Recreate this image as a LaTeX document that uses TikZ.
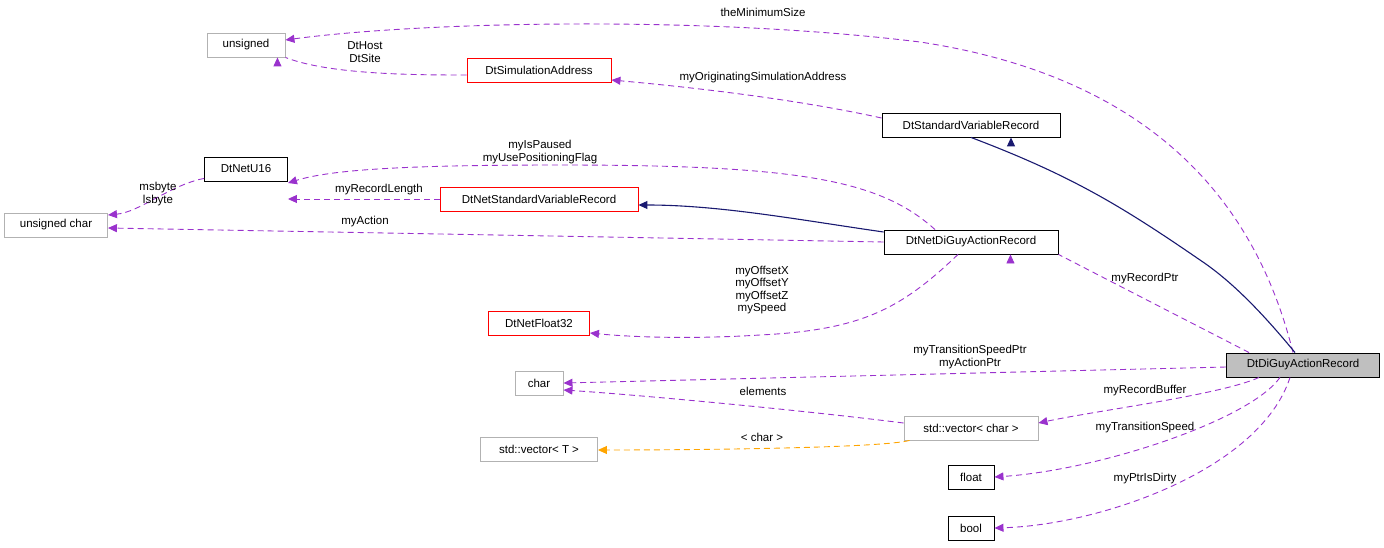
\documentclass[tikz,border=0pt]{standalone}
\usepackage{fontspec}
\setmainfont{Liberation Sans}
\usetikzlibrary{arrows.meta}
\definecolor{pur}{HTML}{9A32CD}
\definecolor{navy}{HTML}{191970}
\definecolor{org}{HTML}{FFA500}
\begin{document}
\begin{tikzpicture}[x=1pt,y=-1pt,font=\fontsize{11.5}{12.5}\selectfont,
  box/.style={draw,rectangle,minimum height=24pt,inner xsep=5pt,inner ysep=0pt,line width=0.9pt},
  gbox/.style={box,draw=gray!60},
  rbox/.style={box,draw=red},
  kbox/.style={box,draw=black},
  rel/.style={draw=pur,line width=0.9pt,dash pattern=on 6pt off 4pt,-{Triangle[length=9pt,width=8pt]}},
  inh/.style={draw=navy,-{Triangle[length=9pt,width=8pt]},line width=1.1pt},
  tpl/.style={draw=org,line width=0.9pt,dash pattern=on 6pt off 4pt,-{Triangle[length=9pt,width=8pt]}},
  lab/.style={align=center,inner sep=0pt}]
\useasboundingbox (0,0) rectangle (1384,548);
\node[gbox,minimum width=78pt] (uns) at (246,45) {unsigned};
\node[rbox,minimum width=144pt] (sim) at (539,70) {DtSimulationAddress};
\node[kbox,minimum width=178pt] (svr) at (971,125) {DtStandardVariableRecord};
\node[kbox,minimum width=83pt] (u16) at (246,169) {DtNetU16};
\node[rbox,minimum width=198pt] (nsv) at (539,199) {DtNetStandardVariableRecord};
\node[gbox,minimum width=103pt] (uc) at (56,225) {unsigned char};
\node[kbox,minimum width=174pt] (ngar) at (971,242) {DtNetDiGuyActionRecord};
\node[rbox,minimum width=101pt] (f32) at (539,323) {DtNetFloat32};
\node[gbox,minimum width=48pt] (chr) at (539,383) {char};
\node[kbox,fill=gray!50,minimum width=153pt] (dgar) at (1303,365) {DtDiGuyActionRecord};
\node[gbox,minimum width=134pt] (vc) at (971,428) {std::vector< char >};
\node[gbox,minimum width=117pt] (vt) at (539,449) {std::vector< T >};
\node[kbox,minimum width=46pt] (flt) at (971,477) {float};
\node[kbox,minimum width=46pt] (bl) at (971,528) {bool};

\draw[rel] (dgar.north) ++(-10,0) coordinate (a1) .. controls (1260,220) and (1170,80) .. (920,42) .. controls (700,15) and (420,22) .. (uns.east |- 0,40) coordinate (e1);
\node[lab] (l1) at (763,12) {theMinimumSize};
\draw[rel] (sim.west) ++(0,5) coordinate (a2) .. controls (420,75) and (330,75) .. (uns.south east) ++(-8,0) coordinate (e2);
\node[lab] (l2) at (365,52) {DtHost\\DtSite};
\draw[rel] (svr.west) ++(0,-7) coordinate (a3) .. controls (800,100) and (700,88) .. (sim.east |- 0,80) coordinate (e3);
\node[lab] (l3) at (763,78) {myOriginatingSimulationAddress};
\draw[inh] (dgar.north) ++(-8,0) coordinate (a4) .. controls (1260,310) and (1230,280) .. (1200,260) .. controls (1120,205) and (1070,175) .. (svr.south) ++(40,0) coordinate (e4);
\draw[rel] (ngar.north) ++(-36,0) coordinate (a5) .. controls (880,180) and (800,165) .. (560,165) .. controls (400,165) and (330,170) .. (u16.east |- 0,183) coordinate (e5);
\node[lab] (l5) at (540,152) {myIsPaused\\myUsePositioningFlag};
\draw[rel] (nsv.west) -- (u16.east |- nsv.west);
\node[lab] (l6) at (379,190) {myRecordLength};
\draw[rel] (u16.south west) ++(0,-3) coordinate (a7) .. controls (170,185) and (140,212) .. (uc.east |- 0,215) coordinate (e7);
\node[lab] (l7) at (158,194) {msbyte\\lsbyte};
\draw[inh] (ngar.west |- 0,232) coordinate (a8) .. controls (800,220) and (720,205) .. (nsv.east |- 0,205) coordinate (e8);
\draw[rel] (ngar.west) -- (uc.east |- 0,228) coordinate (e9);
\node[lab] (l9) at (365,222) {myAction};
\draw[rel] (ngar.south) ++(-13,0) coordinate (a10) .. controls (900,310) and (860,330) .. (760,335) .. controls (680,340) and (620,336) .. (f32.east |- 0,333) coordinate (e10);
\node[lab] (l10) at (762,290) {myOffsetX\\myOffsetY\\myOffsetZ\\mySpeed};
\draw[rel] (dgar.north west) ++(23,0) coordinate (a11) -- (ngar.south east) ++(-48,0) coordinate (e11);
\node[lab] (l11) at (1145,279) {myRecordPtr};
\draw[rel] (dgar.west) ++(0,2) coordinate (a12) -- (chr.east) coordinate (e12);
\node[lab] (l12) at (970,357) {myTransitionSpeedPtr\\myActionPtr};
\draw[rel] (vc.west) ++(0,-5) coordinate (a13) .. controls (800,410) and (640,395) .. (chr.east |- 0,390) coordinate (e13);
\node[lab] (l13) at (763,391) {elements};
\draw[rel] (dgar.south west) ++(33,0) coordinate (a14) .. controls (1220,395) and (1100,410) .. (vc.east |- 0,423) coordinate (e14);
\node[lab] (l14) at (1145,391) {myRecordBuffer};
\draw[tpl] (vc.south west) ++(6,0) coordinate (a15) .. controls (880,448) and (700,450) .. (vt.east |- 0,450) coordinate (e15);
\node[lab] (l15) at (762,437) {< char >};
\draw[rel] (dgar.south) ++(-23,0) coordinate (a16) .. controls (1250,420) and (1100,470) .. (flt.east) coordinate (e16);
\node[lab] (l16) at (1145,428) {myTransitionSpeed};
\draw[rel] (dgar.south) ++(-13,0) coordinate (a17) .. controls (1260,470) and (1100,525) .. (bl.east) coordinate (e17);
\node[lab] (l17) at (1145,479) {myPtrIsDirty};
\end{tikzpicture}
\end{document}
